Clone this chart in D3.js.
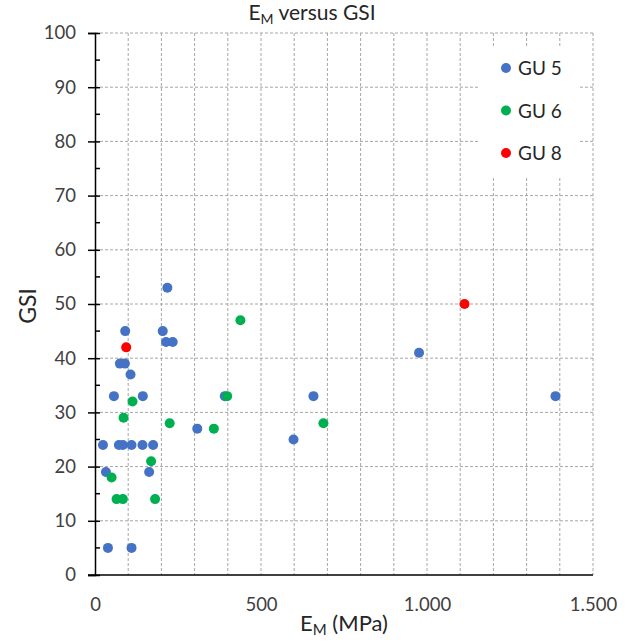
<!DOCTYPE html>
<html>
<head>
<meta charset="utf-8">
<script src="https://cdn.jsdelivr.net/npm/d3@7"></script>
<style>
  body { margin: 0; background: #fff; }
  text { font-family: Lato, "Open Sans", sans-serif; }
</style>
</head>
<body>
<div id="chart"></div>
<script>
// Data
var gu5E   = [218, 91, 204, 214, 234, 75, 90, 107, 57, 144, 24, 72, 84, 110, 143, 175, 33, 163, 39, 110, 308, 598, 658, 976, 1387, 391];
var gu5GSI = [53, 45, 45, 43, 43, 39, 39, 37, 33, 33, 24, 24, 24, 24, 24, 24, 19, 19, 5, 5, 27, 25, 33, 41, 33, 33];
var gu6E   = [438, 398, 113, 86, 225, 358, 169, 50, 65, 84, 181, 688];
var gu6GSI = [47, 33, 32, 29, 28, 27, 21, 18, 14, 14, 14, 28];
var gu8E   = [94, 1113];
var gu8GSI = [42, 50];

var seriesNames = ["GU 5", "GU 6", "GU 8"];
var seriesColors = ["#4472C4", "#00B050", "#FF0000"];
var xTicks = [0, 500, 1000, 1500];
var yTicks = [0, 10, 20, 30, 40, 50, 60, 70, 80, 90, 100];

var series = [
    { name: seriesNames[0], color: seriesColors[0], e: gu5E, gsi: gu5GSI },
    { name: seriesNames[1], color: seriesColors[1], e: gu6E, gsi: gu6GSI },
    { name: seriesNames[2], color: seriesColors[2], e: gu8E, gsi: gu8GSI }
];

var W = 630, H = 643;
var margin = { top: 33, right: 37, bottom: 68, left: 95 },
    width = W - margin.left - margin.right,
    height = H - margin.top - margin.bottom;

var svg = d3.select("#chart").append("svg")
    .attr("width", W)
    .attr("height", H);

var g = svg.append("g")
    .attr("transform", "translate(" + margin.left + "," + margin.top + ")");

var x = d3.scaleLinear().domain([0, 1500]).range([0, width]);
var y = d3.scaleLinear().domain([0, 100]).range([height, 0]);

// European number format: 1.000
var locale = d3.formatLocale({ decimal: ",", thousands: ".", grouping: [3], currency: ["", "€"] });
var fmt = locale.format(",");

// Dashed grid
var gridColor = "#a6a6a6";
g.append("g").selectAll("line")
    .data(d3.range(100, 1501, 100))
    .enter().append("line")
    .attr("x1", function (d) { return x(d); })
    .attr("x2", function (d) { return x(d); })
    .attr("y1", 0).attr("y2", height)
    .style("stroke", gridColor)
    .style("stroke-width", 1)
    .style("stroke-dasharray", "3,2");
g.append("g").selectAll("line")
    .data(d3.range(10, 101, 10))
    .enter().append("line")
    .attr("x1", 0).attr("x2", width)
    .attr("y1", function (d) { return y(d); })
    .attr("y2", function (d) { return y(d); })
    .style("stroke", gridColor)
    .style("stroke-width", 1)
    .style("stroke-dasharray", "3,2");

// Y axis: major ticks crossing, minor ticks inside
var yAxis = g.append("g")
    .call(d3.axisLeft(y).tickValues(yTicks).tickSize(7).tickPadding(12));
yAxis.select(".domain").style("stroke", "#000").style("stroke-width", 1.5);
yAxis.selectAll(".tick line").attr("x2", 5).attr("x1", -7).style("stroke", "#000").style("stroke-width", 1.5);
yAxis.selectAll("text").style("font-size", "18.5px").style("fill", "#404040")
    .style("font-family", "Lato, 'Open Sans', sans-serif");
g.append("g").selectAll("line")
    .data(d3.range(5, 100, 10))
    .enter().append("line")
    .attr("x1", 0).attr("x2", 5)
    .attr("y1", function (d) { return y(d); })
    .attr("y2", function (d) { return y(d); })
    .style("stroke", "#000")
    .style("stroke-width", 1.5);

// X axis: no ticks
var xAxis = g.append("g")
    .attr("transform", "translate(0," + height + ")")
    .call(d3.axisBottom(x).tickValues(xTicks).tickSize(0).tickPadding(23).tickFormat(fmt));
xAxis.select(".domain").remove();
xAxis.selectAll("text").style("font-size", "18.5px").style("fill", "#404040")
    .style("font-family", "Lato, 'Open Sans', sans-serif");
g.append("line")
    .attr("x1", -7).attr("x2", width)
    .attr("y1", height).attr("y2", height)
    .style("stroke", "#000")
    .style("stroke-width", 1.5);

// Points
series.forEach(function (s) {
    var pts = s.e.map(function (v, i) { return { e: v, gsi: s.gsi[i] }; });
    g.append("g").selectAll("circle")
        .data(pts)
        .enter().append("circle")
        .attr("cx", function (d) { return x(d.e); })
        .attr("cy", function (d) { return y(d.gsi); })
        .attr("r", 5)
        .style("fill", s.color);
});

// Legend
var legend = svg.append("g").attr("transform", "translate(478,47)");
legend.append("rect")
    .attr("width", 100).attr("height", 130)
    .style("fill", "#fff");
series.forEach(function (s, i) {
    var row = legend.append("g").attr("transform", "translate(0," + (21 + i * 42.5) + ")");
    row.append("circle").attr("cx", 28).attr("cy", 0).attr("r", 5).style("fill", s.color);
    row.append("text").attr("x", 40).attr("y", 7)
        .style("font-size", "19px").style("fill", "#262626")
        .text(s.name);
});

// Title
var title = svg.append("text")
    .attr("x", 312).attr("y", 20)
    .attr("text-anchor", "middle")
    .style("font-size", "21px").style("fill", "#262626");
title.append("tspan").text("E");
title.append("tspan").attr("baseline-shift", "-25%").style("font-size", "14px").text("M");
title.append("tspan").text(" versus GSI");

// Axis titles
var xt = svg.append("text")
    .attr("x", margin.left + width / 2).attr("y", 631)
    .attr("text-anchor", "middle")
    .style("font-size", "22px").style("fill", "#262626");
xt.append("tspan").text("E");
xt.append("tspan").attr("baseline-shift", "-25%").style("font-size", "15px").text("M");
xt.append("tspan").text(" (MPa)");

svg.append("text")
    .attr("transform", "translate(36," + (margin.top + height / 2 + 2) + ") rotate(-90)")
    .attr("text-anchor", "middle")
    .style("font-size", "23px").style("fill", "#262626")
    .text("GSI");
</script>
</body>
</html>
